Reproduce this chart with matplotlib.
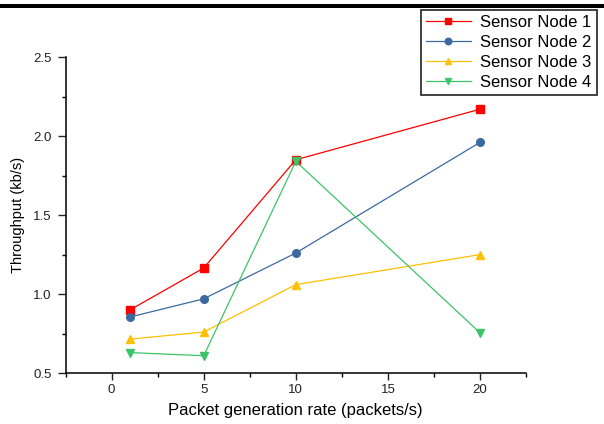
import numpy as np
import matplotlib
matplotlib.use("Agg")
import matplotlib.pyplot as plt
from matplotlib.patches import Rectangle
from matplotlib.ticker import MultipleLocator

plt.rcParams['font.family'] = ['Liberation Sans', 'DejaVu Sans']

# packet generation rate (packets/s)
rate = [1, 5, 10, 20]
# throughput (kb/s) per node
node1 = [0.90, 1.165, 1.85, 2.17]
node2 = [0.855, 0.97, 1.26, 1.96]
node3 = [0.715, 0.76, 1.06, 1.25]
node4 = [0.63, 0.61, 1.84, 0.755]
labels = ["Sensor Node 1", "Sensor Node 2", "Sensor Node 3", "Sensor Node 4"]

colors = ['#ff0000', '#3b6aa0', '#ffc000', '#3cc468']
markers = ['s', 'o', '^', 'v']

fig = plt.figure(figsize=(6.04, 4.24), dpi=100)
ax = fig.add_axes([0.1085, 0.12, 0.7625, 0.7455])

for y, c, m, lab in zip([node1, node2, node3, node4], colors, markers, labels):
    ax.plot(rate, y, color=c, marker=m, markersize=5.5, linewidth=0.9, label=lab)

ax.set_xlim(-2.5, 22.5)
ax.set_ylim(0.5, 2.5)
ax.xaxis.set_major_locator(MultipleLocator(5))
ax.xaxis.set_minor_locator(MultipleLocator(2.5))
ax.yaxis.set_major_locator(MultipleLocator(0.5))
ax.yaxis.set_minor_locator(MultipleLocator(0.25))
ax.yaxis.set_major_formatter(plt.FormatStrFormatter('%.1f'))

# only left and bottom axis lines, origin style
ax.spines['top'].set_visible(False)
ax.spines['right'].set_visible(False)
for s in ['left', 'bottom']:
    ax.spines[s].set_linewidth(1.1)
ax.tick_params(which='major', direction='out', length=5, width=1.0, labelsize=9.5, pad=3, colors='#222222')
ax.tick_params(which='minor', direction='out', length=3, width=1.0)
ax.tick_params(axis='y', which='major', length=6, pad=4)

ax.set_xlabel('Packet generation rate (packets/s)', fontsize=12, labelpad=5)
ax.set_ylabel('Throughput (kb/s)', fontsize=10.5, labelpad=6)

leg = ax.legend(loc='upper left', bbox_to_anchor=(421 / 604, 1 - 10 / 424),
                bbox_transform=fig.transFigure, fontsize=12, frameon=True,
                fancybox=False, borderaxespad=0, borderpad=0.3, labelspacing=0.3,
                handlelength=2.7, handletextpad=0.55, numpoints=1, markerscale=0.85)
leg.get_frame().set_edgecolor('black')
leg.get_frame().set_linewidth(1.3)

# thick black rule along the top of the image
fig.patches.append(Rectangle((0, 1 - 8 / 424), 1, 3.5 / 424, transform=fig.transFigure,
                             facecolor='black', edgecolor='none'))

fig.savefig('out.png', dpi=100)
